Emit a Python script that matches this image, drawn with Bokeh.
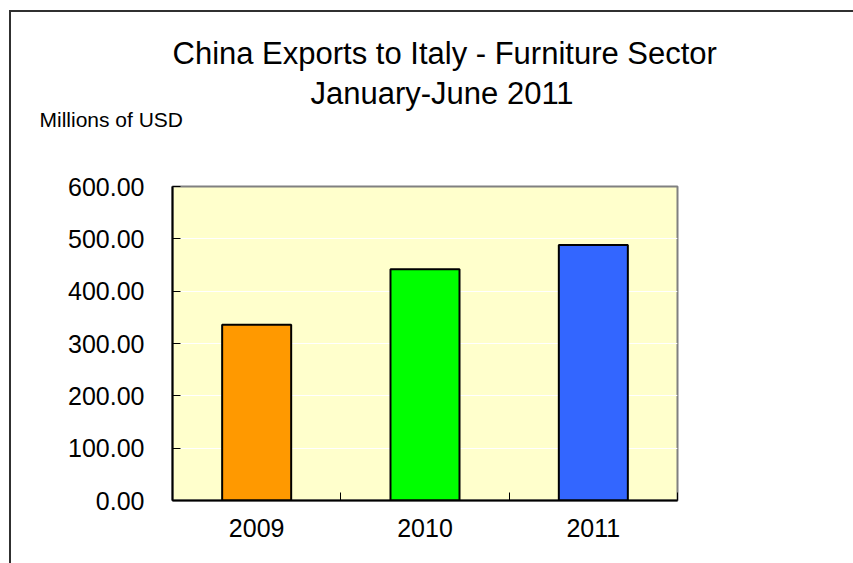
from bokeh.plotting import figure
from bokeh.models import Title, FixedTicker, NumeralTickFormatter, Range1d, ColumnDataSource
from bokeh.embed import file_html
from bokeh.resources import INLINE

categories = ["2009", "2010", "2011"]
values = [336, 442, 488]
colors = ["#FF9900", "#00FF00", "#3366FF"]
y_ticks = [0, 100, 200, 300, 400, 500, 600]

FONT = "Liberation Sans"

xs = [i + 0.5 for i in range(len(categories))]
src = ColumnDataSource(dict(x=xs, top=values, color=colors))

W, H = 844, 553
FL, FR, FT, FB = 161, 666, 174, 488   # frame edges inside the figure
p = figure(width=W, height=H, output_backend="svg", toolbar_location=None,
           x_range=Range1d(0, len(categories)), y_range=Range1d(0, 600),
           min_border_left=FL, min_border_right=W - FR, min_border_top=FT,
           min_border_bottom=H - FB)
p.margin = (10, 0, 0, 9)
p.styles = {"border-left": "2px solid #303030", "border-top": "2px solid #303030"}

p.background_fill_color = "#FFFFCC"
p.border_fill_color = "white"
p.outline_line_color = "#808080"
p.outline_line_width = 2

p.vbar(x="x", top="top", width=0.41, bottom=0, source=src, fill_color="color",
       line_color="black", line_width=2)

# grid
p.xgrid.visible = False
p.ygrid.grid_line_color = "white"
p.ygrid.grid_line_width = 1
p.ygrid.ticker = FixedTicker(ticks=y_ticks)

# y axis
ya = p.yaxis[0]
ya.ticker = FixedTicker(ticks=y_ticks)
ya.formatter = NumeralTickFormatter(format="0.00")
ya.axis_line_color = "black"
ya.axis_line_width = 2
ya.major_tick_in = 8
ya.major_tick_out = 0
ya.major_tick_line_color = "black"
ya.major_tick_line_width = 1
ya.minor_tick_line_color = None
ya.major_label_text_font = FONT
ya.major_label_text_font_size = "25px"
ya.major_label_text_color = "black"
ya.major_label_standoff = 28

# x axis
xa = p.xaxis[0]
xa.ticker = FixedTicker(ticks=xs, minor_ticks=list(range(len(categories) + 1)))
xa.major_label_overrides = {x: c for x, c in zip(xs, categories)}
xa.axis_line_color = "black"
xa.axis_line_width = 2
xa.major_tick_in = 0
xa.major_tick_out = 0
xa.minor_tick_in = 8
xa.minor_tick_out = 0
xa.minor_tick_line_color = "black"
xa.minor_tick_line_width = 1
xa.major_label_text_font = FONT
xa.major_label_text_font_size = "25px"
xa.major_label_text_color = "black"
xa.major_label_standoff = 18

p.title.text = ""
p.add_layout(Title(text="Millions of USD", align="left", offset=-133,
                   text_font=FONT, text_font_size="21px", text_font_style="normal",
                   text_color="black", standoff=111), "above")
p.add_layout(Title(text="China Exports to Italy - Furniture Sector", align="left", offset=0,
                   text_font=FONT, text_font_size="31px", text_font_style="normal",
                   text_color="black", standoff=-40), "above")
p.add_layout(Title(text="January-June 2011", align="left", offset=138,
                   text_font=FONT, text_font_size="31px", text_font_style="normal",
                   text_color="black", standoff=-121), "above")

open("out.html", "w").write(file_html(p, INLINE))
